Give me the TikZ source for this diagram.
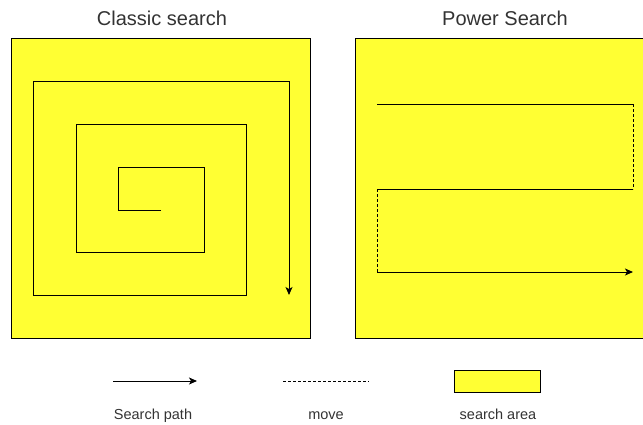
\documentclass[tikz,border=0pt]{standalone}
\usepackage{fontspec}
\setmainfont{Liberation Sans}
\usetikzlibrary{arrows.meta, positioning}

\definecolor{areayellow}{HTML}{FFFF33}
\definecolor{textgray}{HTML}{333333}

\tikzset{
  area/.style={draw, line width=1pt, fill=areayellow, inner sep=0pt, anchor=north west},
  path line/.style={line width=1pt, -{Stealth[length=8pt, width=7pt, inset=2pt]}},
  move line/.style={line width=1pt, dash pattern=on 3pt off 2pt},
  title/.style={text=textgray, anchor=base, font=\fontsize{20}{24}\selectfont},
  legend/.style={text=textgray, anchor=base, font=\fontsize{14.5}{17}\selectfont},
}

\begin{document}
\begin{tikzpicture}[x=1pt, y=-1pt]
  \clip (0,0) rectangle (643,424);

  % the two search areas
  \node[area, minimum width=299pt, minimum height=300pt] (classic) at (11,38) {};
  \node[area, minimum width=299pt, minimum height=300pt] (power) at (355,38) {};
  \node[title] (classictitle) at (162,25) {Classic search};
  \node[title] (powertitle) at (505,25) {Power Search};

  % spiral, from the centre outwards
  \coordinate (start) at (161,210);
  \draw[path line] (start) -| (118,167) -| (204,252) -| (76,124)
    -| (246,295) -| (33,81) -| (289,295);

  % sweeps joined by moves
  \coordinate (s1) at (377,104);
  \coordinate (s2) at (633,104);
  \coordinate (s3) at (633,189);
  \coordinate (s4) at (377,189);
  \coordinate (s5) at (377,272);
  \coordinate (s6) at (633,272);
  \draw[line width=1pt] (s1) -- (s2);
  \draw[move line] (s2) -- (s3);
  \draw[line width=1pt] (s3) -- (s4);
  \draw[move line] (s4) -- (s5);
  \draw[path line] (s5) -- (s6);

  % legend
  \coordinate (pathA) at (113,381);
  \coordinate (pathB) at (197,381);
  \draw[path line] (pathA) -- (pathB);
  \node[legend] (pathlabel) at (153,419.5) {Search path};

  \coordinate (moveA) at (283,381);
  \coordinate (moveB) at (369,381);
  \draw[move line] (moveA) -- (moveB);
  \node[legend] (movelabel) at (326,419.5) {move};

  \node[area, minimum width=86pt, minimum height=22pt] (areakey) at (454,370) {};
  \node[legend] (arealabel) at (498,419.5) {search area};
\end{tikzpicture}
\end{document}
